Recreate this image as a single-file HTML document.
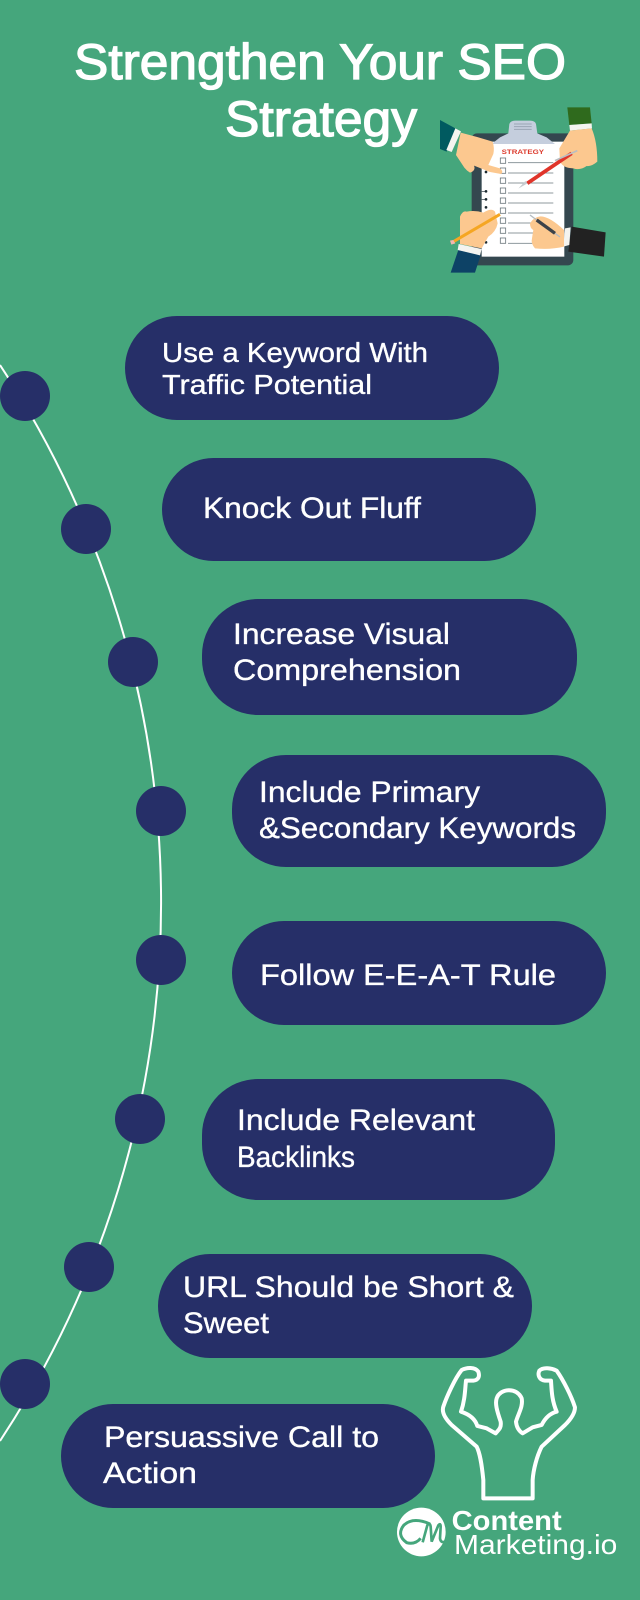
<!DOCTYPE html>
<html><head><meta charset="utf-8"><style>
html,body{margin:0;padding:0;width:640px;height:1600px;overflow:hidden;background:#45a67c}
svg{display:block}
text{font-family:"Liberation Sans",sans-serif}
.t{font-size:30px;fill:#fff;stroke:#fff;stroke-width:.35}
</style></head><body>
<svg width="640" height="1600" viewBox="0 0 640 1600" xmlns="http://www.w3.org/2000/svg">
<rect width="640" height="1600" fill="#45a67c"/>
<text x="74" y="79" font-size="50" fill="#fff" stroke="#fff" stroke-width="1.3" textLength="492" lengthAdjust="spacingAndGlyphs">Strengthen Your SEO</text>
<text x="225" y="136" font-size="50" fill="#fff" stroke="#fff" stroke-width="1.3" textLength="192" lengthAdjust="spacingAndGlyphs">Strategy</text>

<path d="M0 365 A979 979 0 0 1 0 1441" fill="none" stroke="#fff" stroke-width="2"/>
<g fill="#262f68">
<circle cx="25" cy="396" r="25"/><circle cx="86" cy="529" r="25"/><circle cx="133" cy="662" r="25"/><circle cx="161" cy="811" r="25"/>
<circle cx="161" cy="960" r="25"/><circle cx="140" cy="1119" r="25"/><circle cx="89" cy="1267" r="25"/><circle cx="25" cy="1384" r="25"/>
<rect x="125" y="316" width="374" height="104" rx="52"/>
<rect x="162" y="458" width="374" height="103" rx="51.5"/>
<rect x="202" y="599" width="375" height="116" rx="56"/>
<rect x="232" y="755" width="374" height="112" rx="54"/>
<rect x="232" y="921" width="374" height="104" rx="52"/>
<rect x="202" y="1079" width="353" height="121" rx="56"/>
<rect x="158" y="1254" width="374" height="104" rx="52"/>
<rect x="61" y="1404" width="374" height="104" rx="52"/>
</g>
<text class="t" style="font-size:28px" x="162" y="362" textLength="266" lengthAdjust="spacingAndGlyphs">Use a Keyword With</text>
<text class="t" style="font-size:28px" x="162" y="394" textLength="210" lengthAdjust="spacingAndGlyphs">Traffic Potential</text>
<text class="t" x="203" y="518" textLength="218" lengthAdjust="spacingAndGlyphs">Knock Out Fluff</text>
<text class="t" x="233" y="644" textLength="217" lengthAdjust="spacingAndGlyphs">Increase Visual</text>
<text class="t" x="233" y="680" textLength="228" lengthAdjust="spacingAndGlyphs">Comprehension</text>
<text class="t" x="259" y="802" textLength="221" lengthAdjust="spacingAndGlyphs">Include Primary</text>
<text class="t" x="259" y="838" textLength="317" lengthAdjust="spacingAndGlyphs">&amp;Secondary Keywords</text>
<text class="t" x="260" y="985" textLength="296" lengthAdjust="spacingAndGlyphs">Follow E-E-A-T Rule</text>
<text class="t" x="237" y="1130" textLength="238" lengthAdjust="spacingAndGlyphs">Include Relevant</text>
<text class="t" x="237" y="1167" textLength="118" lengthAdjust="spacingAndGlyphs">Backlinks</text>
<text class="t" x="183" y="1297" textLength="331" lengthAdjust="spacingAndGlyphs">URL Should be Short &amp;</text>
<text class="t" x="183" y="1333" textLength="86" lengthAdjust="spacingAndGlyphs">Sweet</text>
<text class="t" x="104" y="1447" textLength="275" lengthAdjust="spacingAndGlyphs">Persuassive Call to</text>
<text class="t" x="103" y="1483" textLength="94" lengthAdjust="spacingAndGlyphs">Action</text>

<!-- clipboard -->
<g transform="translate(420,100) scale(0.3333)">
<rect x="155" y="100" width="305" height="396" rx="16" fill="#34474f"/>
<rect x="185" y="125" width="248" height="345" fill="#fff"/>
<path d="M215 132 L240 112 L265 100 L268 72 Q272 62 285 62 L330 62 Q345 62 348 72 L352 100 L380 112 L405 132 Z" fill="#c5cedd"/>
<g stroke="#9aa5b5" stroke-width="3"><path d="M282 72H335M282 80H335M282 88H335"/></g>
<text x="245" y="162" font-size="19" font-weight="bold" fill="#dc3a2c" textLength="127" lengthAdjust="spacingAndGlyphs">STRATEGY</text>
<g fill="#fff" stroke="#6f7a7f" stroke-width="2.5">
<rect x="241" y="174" width="16" height="16"/><rect x="241" y="204" width="16" height="16"/><rect x="241" y="234" width="16" height="16"/>
<rect x="241" y="264" width="16" height="16"/><rect x="241" y="294" width="16" height="16"/><rect x="241" y="324" width="16" height="16"/>
<rect x="241" y="354" width="16" height="16"/><rect x="241" y="384" width="16" height="16"/><rect x="241" y="414" width="16" height="16"/>
</g>
<g stroke="#8f9a9e" stroke-width="3">
<path d="M264 188H400M264 219H400M264 249H400M264 279H400M264 309H400M264 339H400M264 369H400M264 399H400M264 430H400"/>
</g>
<g fill="#1c2a30"><circle cx="198" cy="216" r="4"/><circle cx="198" cy="274" r="4"/><circle cx="198" cy="298" r="4"/><circle cx="198" cy="322" r="4"/><circle cx="198" cy="380" r="4"/><circle cx="198" cy="427" r="4"/></g>
<path d="M185 274H198M185 298H198" stroke="#1c2a30" stroke-width="2"/>
<!-- top-left hand -->
<path d="M60 60 L106 85 L80 155 L60 147 Z" fill="#005a60"/>
<path d="M106 85 L123 94 L95 156 L79 150 Z" fill="#f4f4f0"/>
<path d="M122 98 Q170 110 218 125 Q224 145 220 162 L205 195 L240 205 Q252 215 243 222 L210 216 L162 197 Q168 212 150 218 Q140 212 133 203 L108 165 Z" fill="#fcc88f"/>
<!-- top-right hand -->
<path d="M442 22 L510 22 L515 70 L448 75 Z" fill="#2f6a1d"/>
<path d="M448 75 L515 70 L516 85 L450 92 Z" fill="#f4f4f0"/>
<path d="M450 92 L515 85 Q532 125 532 185 Q515 200 500 198 Q480 212 460 205 Q430 205 420 185 L418 145 Z" fill="#fcc88f"/>
<!-- red pen -->
<path d="M322 250 L455 160" stroke="#e0342a" stroke-width="11"/>
<path d="M295 266 L322 250 L316 243 Z" fill="#c7ccd0"/>
<path d="M405 182 L472 152" stroke="#b9bec2" stroke-width="5"/>
<!-- bottom-left hand -->
<path d="M115 450 L182 465 L165 518 L92 518 Z" fill="#0d4266"/>
<path d="M116 432 L185 447 L180 466 L113 450 Z" fill="#f4f4f0"/>
<path d="M120 432 L120 350 Q128 330 140 335 Q165 330 190 338 Q215 322 225 335 L233 370 Q228 395 205 410 L185 445 Z" fill="#fcc88f"/>
<path d="M100 425 L240 343" stroke="#f5a623" stroke-width="9"/>
<path d="M90 422 L100 420 L106 430 L94 434 Z" fill="#f2b7b0"/>
<!-- bottom-right hand -->
<path d="M455 380 L557 397 L552 470 L445 455 Z" fill="#222"/>
<path d="M435 385 L452 382 L448 435 L430 440 Z" fill="#f4f4f0"/>
<path d="M330 370 Q342 350 362 349 Q390 350 432 390 L432 440 Q390 450 345 445 Q332 430 336 415 L340 390 Q330 385 330 370 Z" fill="#fcc88f"/>
<path d="M330 345 L350 360M405 400 L420 411" stroke="#b4bbc0" stroke-width="4"/>
<path d="M350 360 L405 400" stroke="#3c4249" stroke-width="10"/>
</g>

<!-- muscle man + logo -->
<g transform="translate(380,1350) scale(0.3333)">
<path d="M310 445 L310 390 C305 340 300 310 290 290 L215 225 C195 205 185 185 190 170 C200 140 225 85 245 60 C260 52 285 50 295 65 C300 80 295 90 280 92 L258 92 C255 120 255 150 243 185 C265 192 285 205 292 228 L320 235 L347 250 C355 240 365 235 362 215 C350 180 345 160 350 145 C360 115 410 110 425 145 C430 170 415 190 408 215 C410 235 420 245 428 250 L458 232 L485 225 C495 205 510 190 530 185 C515 150 515 120 513 92 L495 92 C478 90 472 75 478 62 C490 50 515 55 530 62 C550 90 575 140 585 172 C585 190 570 210 555 225 L485 290 C470 320 460 360 458 390 L458 445 Z" fill="none" stroke="#fff" stroke-width="12" stroke-linejoin="round"/>
<circle cx="124" cy="546" r="73" fill="#fff"/>
<path d="M150 522 Q100 500 72 525 Q48 555 80 578 Q105 585 122 565" fill="none" stroke="#45a67c" stroke-width="9"/>
<path d="M128 577 L142 526 Q150 515 152 530 L155 575 L175 526 Q182 518 182 530 L180 565 Q182 580 195 575" fill="none" stroke="#45a67c" stroke-width="8"/>
<text x="215" y="540" font-size="82" font-weight="bold" fill="#fff" textLength="330" lengthAdjust="spacingAndGlyphs">Content</text>
<text x="222" y="612" font-size="82" fill="#fff" textLength="490" lengthAdjust="spacingAndGlyphs">Marketing.io</text>
</g>
</svg>
</body></html>
